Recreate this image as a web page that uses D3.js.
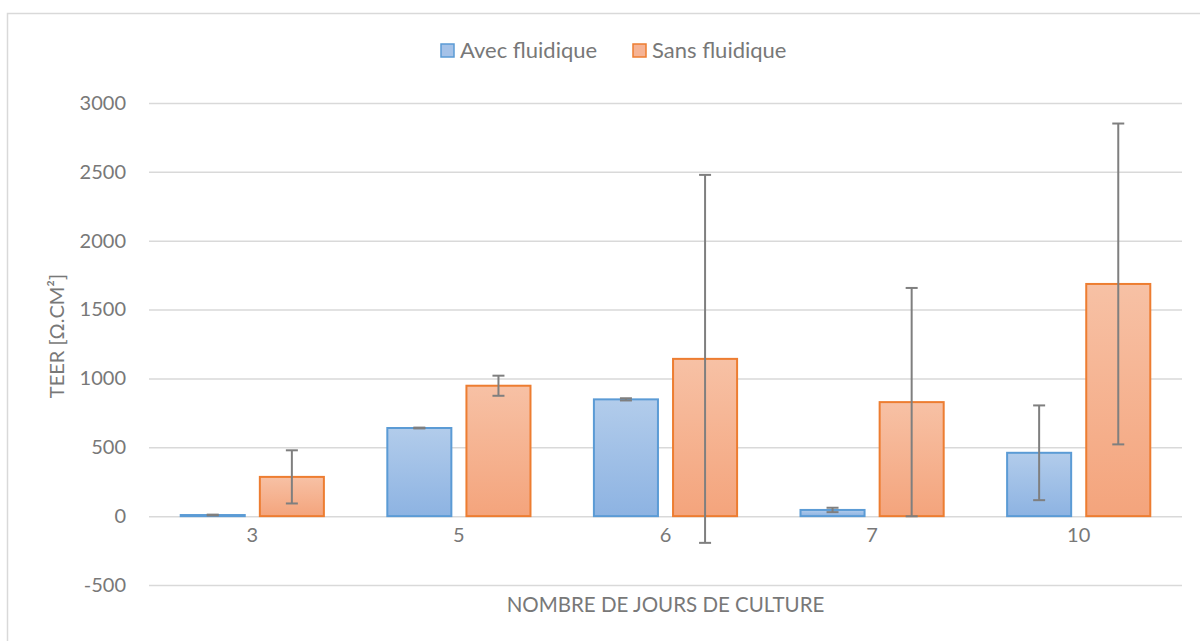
<!DOCTYPE html>
<html>
<head>
<meta charset="utf-8">
<script src="https://cdn.jsdelivr.net/npm/d3@7"></script>
<style>
  html, body { margin: 0; padding: 0; background: #fff; }
  svg { display: block; font-family: Lato, "Open Sans", sans-serif; }
</style>
</head>
<body>
<svg id="chart" width="1200" height="641"></svg>
<script>
// TEER measurements by culture day, with and without fluidics
const categories = ["3", "5", "6", "7", "10"];
const seriesNames = ["Avec fluidique", "Sans fluidique"];
const avecValues = [8, 640, 848, 45, 460];
const avecErrors = [3, 3, 8, 16, 344];
const sansValues = [285, 947, 1142, 828, 1686];
const sansErrors = [193, 73, 1336, 829, 1165];
const yTicks = [-500, 0, 500, 1000, 1500, 2000, 2500, 3000];

const textColor = "#787878";
const svg = d3.select("#chart");
const W = 1200, H = 641;
const plot = { left: 149, right: 1182, top: 103, bottom: 585 };

// outer chart frame
svg.append("rect")
  .attr("x", 7.5).attr("y", 13.5)
  .attr("width", W + 10).attr("height", H + 10)
  .attr("fill", "none").attr("stroke", "#d9d9d9").attr("stroke-width", 1.5);

const y = d3.scaleLinear().domain([-500, 3000]).range([plot.bottom, plot.top]);
const x = d3.scaleBand().domain(categories).range([plot.left, plot.right]);
const bw = x.bandwidth();
const barW = bw * 0.31;
const gap = bw * 0.073;

// gradients for the bar fills
const defs = svg.append("defs");
function grad(id, top, bottom) {
  const g = defs.append("linearGradient").attr("id", id)
    .attr("x1", 0).attr("y1", 0).attr("x2", 0).attr("y2", 1);
  g.append("stop").attr("offset", "0%").attr("stop-color", top);
  g.append("stop").attr("offset", "100%").attr("stop-color", bottom);
}
grad("gBlue", "#b2cceb", "#8db3e2");
grad("gOrange", "#f7c1a5", "#f4a47c");

// gridlines
const gridAxis = d3.axisLeft(y).tickValues(yTicks)
  .tickSize(-(plot.right - plot.left)).tickFormat("");
const grid = svg.append("g").attr("transform", `translate(${plot.left},0)`).call(gridAxis);
grid.select(".domain").remove();
grid.selectAll("line").attr("stroke", "#d9d9d9").attr("stroke-width", 1.5);

// y tick labels
const yAxis = d3.axisLeft(y).tickValues(yTicks).tickSize(0).tickPadding(23)
  .tickFormat(d => String(d));
const ya = svg.append("g").attr("transform", `translate(${plot.left},0)`).call(yAxis);
ya.select(".domain").remove();
ya.selectAll("text").attr("fill", textColor).style("font-size", "20px")
  .style("font-family", "Lato, 'Open Sans', sans-serif");

// x category labels
const xAxis = d3.axisBottom(x).tickSize(0).tickPadding(12);
const xa = svg.append("g").attr("transform", `translate(0,${y(0)})`).call(xAxis);
xa.select(".domain").remove();
xa.selectAll("text").attr("fill", textColor).style("font-size", "20px")
  .style("font-family", "Lato, 'Open Sans', sans-serif");

const series = [
  { name: seriesNames[0], values: avecValues, errors: avecErrors, fill: "url(#gBlue)", stroke: "#5b9bd5", off: -gap / 2 - barW },
  { name: seriesNames[1], values: sansValues, errors: sansErrors, fill: "url(#gOrange)", stroke: "#ed7d31", off: gap / 2 }
];

// bars
series.forEach(s => {
  svg.append("g").selectAll("rect").data(categories).join("rect")
    .attr("x", (c) => x(c) + bw / 2 + s.off)
    .attr("y", (c, i) => y(Math.max(0, s.values[i])))
    .attr("width", barW)
    .attr("height", (c, i) => Math.abs(y(0) - y(s.values[i])))
    .attr("fill", s.fill)
    .attr("stroke", s.stroke)
    .attr("stroke-width", 2);
});

// error bars
series.forEach(s => {
  const g = svg.append("g").attr("stroke", "#7f7f7f").attr("stroke-width", 2);
  categories.forEach((c, i) => {
    const cx = x(c) + bw / 2 + s.off + barW / 2;
    const hi = y(s.values[i] + s.errors[i]);
    const lo = y(s.values[i] - s.errors[i]);
    g.append("line").attr("x1", cx).attr("x2", cx).attr("y1", hi).attr("y2", lo);
    g.append("line").attr("x1", cx - 6).attr("x2", cx + 6).attr("y1", hi).attr("y2", hi);
    g.append("line").attr("x1", cx - 6).attr("x2", cx + 6).attr("y1", lo).attr("y2", lo);
  });
});

// axis titles
svg.append("text")
  .attr("x", (plot.left + plot.right) / 2).attr("y", 612)
  .attr("text-anchor", "middle").attr("fill", textColor)
  .style("font-size", "20.5px")
  .text("NOMBRE DE JOURS DE CULTURE");

svg.append("text")
  .attr("transform", "translate(64,336) rotate(-90)")
  .attr("text-anchor", "middle").attr("fill", textColor)
  .style("font-size", "20px")
  .text("TEER [Ω.CM²]");

// legend
const legend = [
  { name: seriesNames[0], fill: "#a5c2e8", stroke: "#5b9bd5", x: 441 },
  { name: seriesNames[1], fill: "#f6b394", stroke: "#ed7d31", x: 633 }
];
legend.forEach(l => {
  svg.append("rect").attr("x", l.x).attr("y", 44).attr("width", 13).attr("height", 13)
    .attr("fill", l.fill).attr("stroke", l.stroke).attr("stroke-width", 1.5);
  svg.append("text").attr("x", l.x + 19).attr("y", 58)
    .attr("fill", textColor).style("font-size", "22px").text(l.name);
});
</script>
</body>
</html>
